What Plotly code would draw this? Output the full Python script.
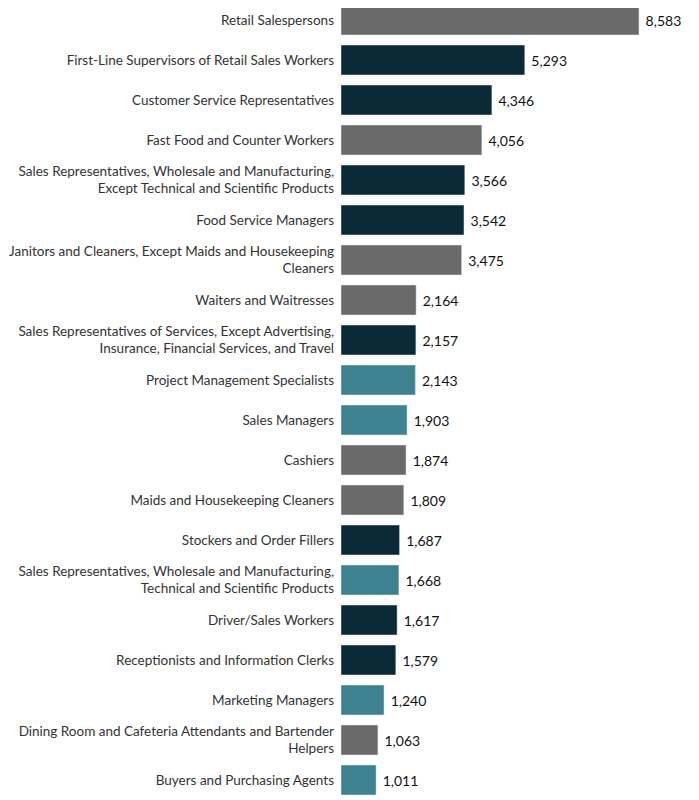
import plotly.graph_objects as go

occupations = [
    "Retail Salespersons",
    "First-Line Supervisors of Retail Sales Workers",
    "Customer Service Representatives",
    "Fast Food and Counter Workers",
    "Sales Representatives, Wholesale and Manufacturing,<br>Except Technical and Scientific Products",
    "Food Service Managers",
    "Janitors and Cleaners, Except Maids and Housekeeping<br>Cleaners",
    "Waiters and Waitresses",
    "Sales Representatives of Services, Except Advertising,<br>Insurance, Financial Services, and Travel",
    "Project Management Specialists",
    "Sales Managers",
    "Cashiers",
    "Maids and Housekeeping Cleaners",
    "Stockers and Order Fillers",
    "Sales Representatives, Wholesale and Manufacturing,<br>Technical and Scientific Products",
    "Driver/Sales Workers",
    "Receptionists and Information Clerks",
    "Marketing Managers",
    "Dining Room and Cafeteria Attendants and Bartender<br>Helpers",
    "Buyers and Purchasing Agents",
]
postings = [8583, 5293, 4346, 4056, 3566, 3542, 3475, 2164, 2157, 2143,
            1903, 1874, 1809, 1687, 1668, 1617, 1579, 1240, 1063, 1011]
groups = ["gray", "navy", "navy", "gray", "navy", "navy", "gray", "gray", "navy", "teal",
          "teal", "gray", "gray", "navy", "teal", "navy", "navy", "teal", "gray", "teal"]

color_map = {"gray": "#6a6a6a", "navy": "#0b2a38", "teal": "#3c8290"}

fig = go.Figure(go.Bar(
    x=postings,
    y=occupations,
    orientation="h",
    marker_color=[color_map[g] for g in groups],
    text=[f" {v:,}" for v in postings],
    textposition="outside",
    cliponaxis=False,
    textfont=dict(size=14, color="#111"),
))

# page body adds an 8px offset, so the figure is sized to 691x792
fig.update_layout(
    width=691, height=792,
    margin=dict(l=333, r=0, t=0, b=0),
    plot_bgcolor="white", paper_bgcolor="white",
    font=dict(family="Lato, sans-serif", size=13.5, color="#333"),
    bargap=0.25,
    showlegend=False,
)
fig.update_xaxes(range=[0, 10310], visible=False)
fig.update_yaxes(range=[19.5, -0.3], showgrid=False, ticks="", ticklabelstandoff=6,
                 automargin=False)

fig.write_html("out.html")
